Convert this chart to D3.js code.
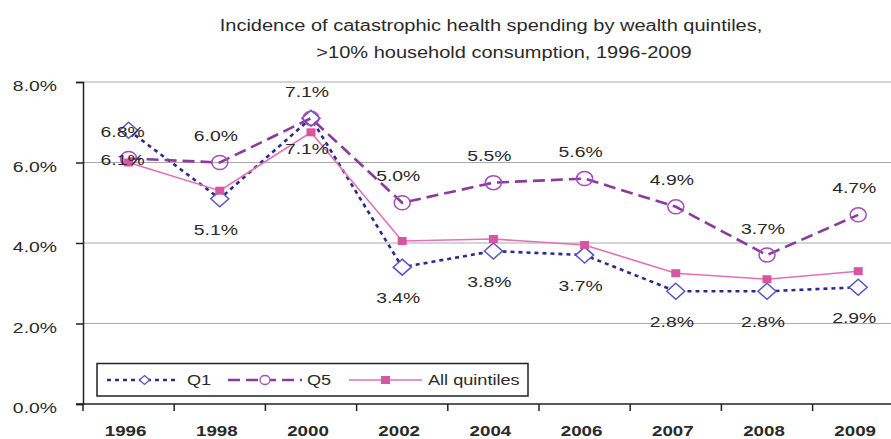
<!DOCTYPE html>
<html>
<head>
<meta charset="utf-8">
<script src="https://cdn.jsdelivr.net/npm/d3@7"></script>
<style>
  html, body { margin: 0; padding: 0; background: #fff; }
  svg { display: block; font-family: "Liberation Sans", Arial, sans-serif; }
</style>
</head>
<body>
<svg id="chart" width="891" height="439"></svg>
<script>
// --- data ---
const years = ["1996", "1998", "2000", "2002", "2004", "2006", "2007", "2008", "2009"];
const q1 = [6.8, 5.1, 7.1, 3.4, 3.8, 3.7, 2.8, 2.8, 2.9];
const q5 = [6.1, 6.0, 7.1, 5.0, 5.5, 5.6, 4.9, 3.7, 4.7];
const allQuintiles = [6.0, 5.3, 6.75, 4.05, 4.1, 3.95, 3.25, 3.1, 3.3];
const yTicks = [0, 2, 4, 6, 8];
const titleLines = ["Incidence of catastrophic health spending by wealth quintiles,", ">10% household consumption, 1996-2009"];
// where each data label sits relative to its marker
const q1LabelPos = ["center", "below", "below", "below", "below", "below", "below", "below", "below"];
const q5LabelPos = ["center", "above", "above", "above", "above", "above", "above", "above", "above"];

const SX = 1.25; // the source picture is stretched sideways, text too
const svg = d3.select("#chart");

const x = d3.scaleBand().domain(years).range([83, 83 + 9 * 91.2]);
const y = d3.scaleLinear().domain([0, 8]).range([404, 82]);
const cx = d => x(d) + x.bandwidth() / 2;

function stretch(sel) {
    sel.each(function() {
        const t = d3.select(this);
        const tx = +t.attr("x") || 0, ty = +t.attr("y") || 0;
        t.attr("x", 0).attr("y", 0).attr("transform", `translate(${tx},${ty}) scale(${SX},1)`);
    });
}

// title
svg.append("g").selectAll("text").data(titleLines).join("text")
    .attr("x", (d, i) => i === 0 ? 491 : 504)
    .attr("y", (d, i) => i === 0 ? 31 : 58)
    .attr("text-anchor", "middle").attr("font-size", 16).attr("fill", "#2a2a2a")
    .text(d => d)
    .call(stretch);

// gridlines
svg.append("g").selectAll("line").data(yTicks.filter(d => d > 0)).join("line")
    .attr("x1", 83).attr("x2", 904)
    .attr("y1", d => y(d)).attr("y2", d => y(d))
    .attr("stroke", "#a9a9a9").attr("stroke-width", 1);

// y axis
const yAxis = svg.append("g").attr("transform", "translate(83,0)")
    .call(d3.axisLeft(y).tickValues(yTicks).tickFormat(d => d.toFixed(1) + "%").tickSize(7).tickPadding(0));
yAxis.select(".domain").attr("stroke", "#222").attr("stroke-width", 1.5);
yAxis.selectAll(".tick line").attr("stroke", "#222").attr("stroke-width", 1.5);
yAxis.selectAll(".tick text")
    .attr("x", -26).attr("dy", null).attr("y", 8.5)
    .attr("font-size", 15.5).attr("fill", "#2a2a2a").attr("font-family", null)
    .call(stretch);

// x axis: labels centred in bands, ticks on band edges
const xAxis = svg.append("g").attr("transform", "translate(0,404)");
xAxis.append("line").attr("x1", 76).attr("x2", 904).attr("stroke", "#222").attr("stroke-width", 1.5);
xAxis.selectAll(".xt").data(years.concat(["end"])).join("line").attr("class", "xt")
    .attr("x1", d => d === "end" ? x.range()[1] : x(d))
    .attr("x2", d => d === "end" ? x.range()[1] : x(d))
    .attr("y1", 0).attr("y2", 7).attr("stroke", "#222").attr("stroke-width", 1.5);
xAxis.selectAll("text").data(years).join("text")
    .attr("x", d => cx(d) - 3).attr("y", 32)
    .attr("text-anchor", "middle").attr("font-size", 15).attr("font-weight", "bold").attr("fill", "#2a2a2a")
    .text(d => d)
    .call(stretch);

// series
const line = d3.line().x((d, i) => cx(years[i])).y(d => y(d));

const diamond = (w, h) => `M0,${-h}L${w},0L0,${h}L${-w},0Z`;

// Q1
svg.append("path").datum(q1).attr("d", line).attr("fill", "none")
    .attr("stroke", "#2b2b8c").attr("stroke-width", 2.6).attr("stroke-dasharray", "4,4");
svg.append("g").selectAll("path").data(q1).join("path")
    .attr("transform", (d, i) => `translate(${cx(years[i])},${y(d)})`)
    .attr("d", diamond(9, 8)).attr("fill", "#fff").attr("stroke", "#5656c4").attr("stroke-width", 1.5);

// Q5
svg.append("path").datum(q5).attr("d", line).attr("fill", "none")
    .attr("stroke", "#8c3a9e").attr("stroke-width", 2.6).attr("stroke-dasharray", "12,6");
svg.append("g").selectAll("ellipse").data(q5).join("ellipse")
    .attr("cx", (d, i) => cx(years[i])).attr("cy", d => y(d))
    .attr("rx", 8).attr("ry", 7).attr("fill", "none").attr("stroke", "#a24db9").attr("stroke-width", 1.5);

// All quintiles
svg.append("path").datum(allQuintiles).attr("d", line).attr("fill", "none")
    .attr("stroke", "#e46fb6").attr("stroke-width", 1.6);
svg.append("g").selectAll("rect").data(allQuintiles).join("rect")
    .attr("x", (d, i) => cx(years[i]) - 4.5).attr("y", d => y(d) - 4)
    .attr("width", 9).attr("height", 8).attr("fill", "#d8559f");

// data labels
const labelY = (v, pos) => y(v) + (pos === "above" ? -21.5 : pos === "below" ? 36 : 6.5);
function labels(vals, pos) {
    svg.append("g").selectAll("text").data(vals).join("text")
        .attr("x", (d, i) => cx(years[i]) - (pos[i] === "center" ? 6 : 4))
        .attr("y", (d, i) => labelY(d, pos[i]))
        .attr("text-anchor", "middle").attr("font-size", 15.5).attr("fill", "#2a2a2a")
        .text(d => d.toFixed(1) + "%")
        .call(stretch);
}
labels(q1, q1LabelPos);
labels(q5, q5LabelPos);

// legend
const legend = svg.append("g");
legend.append("rect").attr("x", 97).attr("y", 363.5).attr("width", 431).attr("height", 32.5)
    .attr("fill", "#fff").attr("stroke", "#222").attr("stroke-width", 1.5);
const legendItems = [
    { name: "Q1", x0: 107, x1: 178, tx: 187 },
    { name: "Q5", x0: 228, x1: 302, tx: 307 },
    { name: "All quintiles", x0: 349, x1: 422, tx: 428 }
];
const ly = 380;
legend.append("line").attr("x1", legendItems[0].x0).attr("x2", legendItems[0].x1).attr("y1", ly).attr("y2", ly)
    .attr("stroke", "#2b2b8c").attr("stroke-width", 2.6).attr("stroke-dasharray", "4,4");
legend.append("path").attr("transform", `translate(${(legendItems[0].x0 + legendItems[0].x1) / 2 + 2},${ly})`)
    .attr("d", diamond(5, 4.5)).attr("fill", "#fff").attr("stroke", "#5656c4").attr("stroke-width", 1.3);
legend.append("line").attr("x1", legendItems[1].x0).attr("x2", legendItems[1].x1).attr("y1", ly).attr("y2", ly)
    .attr("stroke", "#8c3a9e").attr("stroke-width", 2.6).attr("stroke-dasharray", "12,6");
legend.append("ellipse").attr("cx", (legendItems[1].x0 + legendItems[1].x1) / 2).attr("cy", ly)
    .attr("rx", 5).attr("ry", 4.5).attr("fill", "#fff").attr("stroke", "#a24db9").attr("stroke-width", 1.3);
legend.append("line").attr("x1", legendItems[2].x0).attr("x2", legendItems[2].x1).attr("y1", ly).attr("y2", ly)
    .attr("stroke", "#e46fb6").attr("stroke-width", 1.6);
legend.append("rect").attr("x", (legendItems[2].x0 + legendItems[2].x1) / 2 - 4.5).attr("y", ly - 4)
    .attr("width", 9).attr("height", 8).attr("fill", "#d8559f");
legend.selectAll(".lt").data(legendItems).join("text").attr("class", "lt")
    .attr("x", d => d.tx).attr("y", ly + 5)
    .attr("font-size", 14.5).attr("fill", "#2a2a2a")
    .text(d => d.name)
    .call(stretch);
</script>
</body>
</html>
